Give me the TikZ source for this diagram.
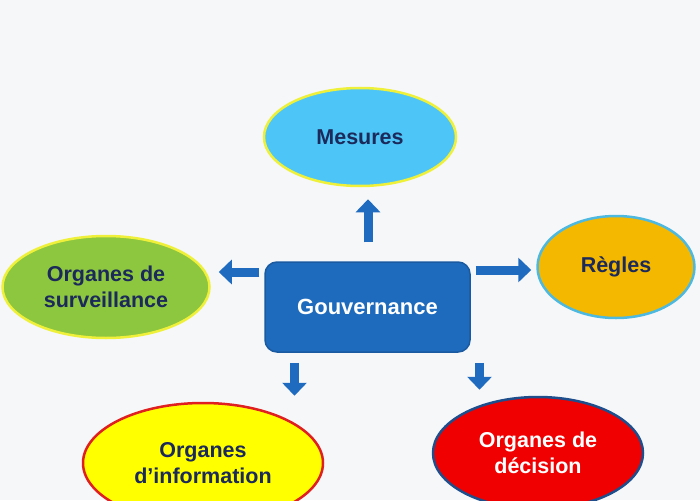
\documentclass[tikz,border=0pt]{standalone}
\usepackage{fontspec}
\setmainfont{Liberation Sans}
\usetikzlibrary{shapes.geometric,arrows.meta}
\definecolor{bg}{HTML}{F6F7F9}
\definecolor{navy}{HTML}{1B2A5A}
\definecolor{blk}{HTML}{1F6BC0}
\definecolor{govfill}{HTML}{1E6BBD}
\definecolor{govline}{HTML}{1A5AA0}
\definecolor{mesfill}{HTML}{4DC6F7}
\definecolor{yelline}{HTML}{EEF03A}
\definecolor{survfill}{HTML}{8DC63F}
\definecolor{regfill}{HTML}{F5B800}
\definecolor{regline}{HTML}{4DB8E0}
\definecolor{infofill}{HTML}{FFFF00}
\definecolor{infoline}{HTML}{E02020}
\definecolor{decfill}{HTML}{F00000}
\definecolor{decline}{HTML}{1F4E8C}
\tikzset{
  oval/.style={ellipse, line width=2.5pt, inner sep=0pt, align=center,
    font=\fontsize{21.5}{25.5}\selectfont\bfseries, text=navy},
  blockarrow/.style={draw=blk, line width=9pt,
    -{Triangle[width=24pt,length=13pt]}},
}
\begin{document}
\begin{tikzpicture}[x=1pt,y=-1pt]
\fill[bg] (0,0) rectangle (700,500);
\useasboundingbox (0,0) rectangle (700,500);
\node[draw=govline, fill=govfill, line width=1.5pt, rounded corners=12pt,
  minimum width=205pt, minimum height=90pt, text=white,
  font=\fontsize{22}{26}\selectfont\bfseries] (gov) at (367.5,307) {Gouvernance};
\node[oval, fill=mesfill, draw=yelline, minimum width=192pt, minimum height=98pt]
  (mes) at (360,137) {Mesures};
\node[oval, fill=survfill, draw=yelline, minimum width=207pt, minimum height=102pt]
  (surv) at (106,287) {Organes de\\surveillance};
\node[oval, fill=regfill, draw=regline, minimum width=157pt, minimum height=102pt]
  (reg) at (616,267) {Règles};
\node[oval, fill=infofill, draw=infoline, minimum width=240pt, minimum height=120pt]
  (info) at (203,463) {Organes\\d’information};
\node[oval, fill=decfill, draw=decline, minimum width=210pt, minimum height=112pt,
  text=white] (dec) at (538,453) {Organes de\\décision};
% arrows
\draw[blockarrow, shorten <=19pt, shorten >=12pt]
  ([xshift=0.5pt]gov.north) -- ([xshift=0.5pt]gov.north |- mes.south);
\draw[blockarrow, shorten <=5pt, shorten >=8pt]
  ([yshift=35pt]gov.west) -- ([yshift=35pt]gov.west -| surv.east);
\draw[blockarrow, shorten <=5pt, shorten >=5pt]
  ([yshift=37pt]gov.east) -- ([yshift=37pt]gov.east -| reg.west);
\draw[blockarrow, shorten <=10pt, shorten >=6pt]
  ([xshift=-73pt]gov.south) -- ([xshift=-73pt]gov.south |- info.north);
\draw[blockarrow, shorten <=10pt, shorten >=6pt]
  ([xshift=112pt]gov.south) -- ([xshift=112pt]gov.south |- dec.north);
\end{tikzpicture}
\end{document}
